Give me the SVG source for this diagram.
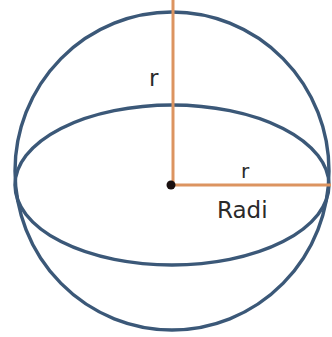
<svg xmlns="http://www.w3.org/2000/svg" width="332" height="337" viewBox="0 0 332 337">
<style>
.sphere{fill:none;stroke:#3b5878;stroke-width:3.4}
.radius{stroke:#dc9460;stroke-width:3;fill:none}
.lbl{font-family:"DejaVu Sans","Liberation Sans",sans-serif;fill:#2a2a2a}
</style>
<rect width="332" height="337" fill="#ffffff"/>
<g id="sphere">
<ellipse class="sphere" cx="172" cy="171" rx="157" ry="159"/>
<ellipse class="sphere" cx="172" cy="185" rx="157" ry="80"/>
</g>
<g id="connectors">
<line class="radius" x1="173" y1="0" x2="173" y2="185"/>
<line class="radius" x1="172" y1="185" x2="331" y2="185"/>
</g>
<g id="center">
<circle cx="171" cy="185" r="4.5" fill="#1a1010"/>
</g>
<g id="labels">
<text class="lbl" x="149" y="86" font-size="23">r</text>
<text class="lbl" x="241" y="178" font-size="20">r</text>
<text class="lbl" x="217" y="218" font-size="23">Radi</text>
</g>
</svg>
